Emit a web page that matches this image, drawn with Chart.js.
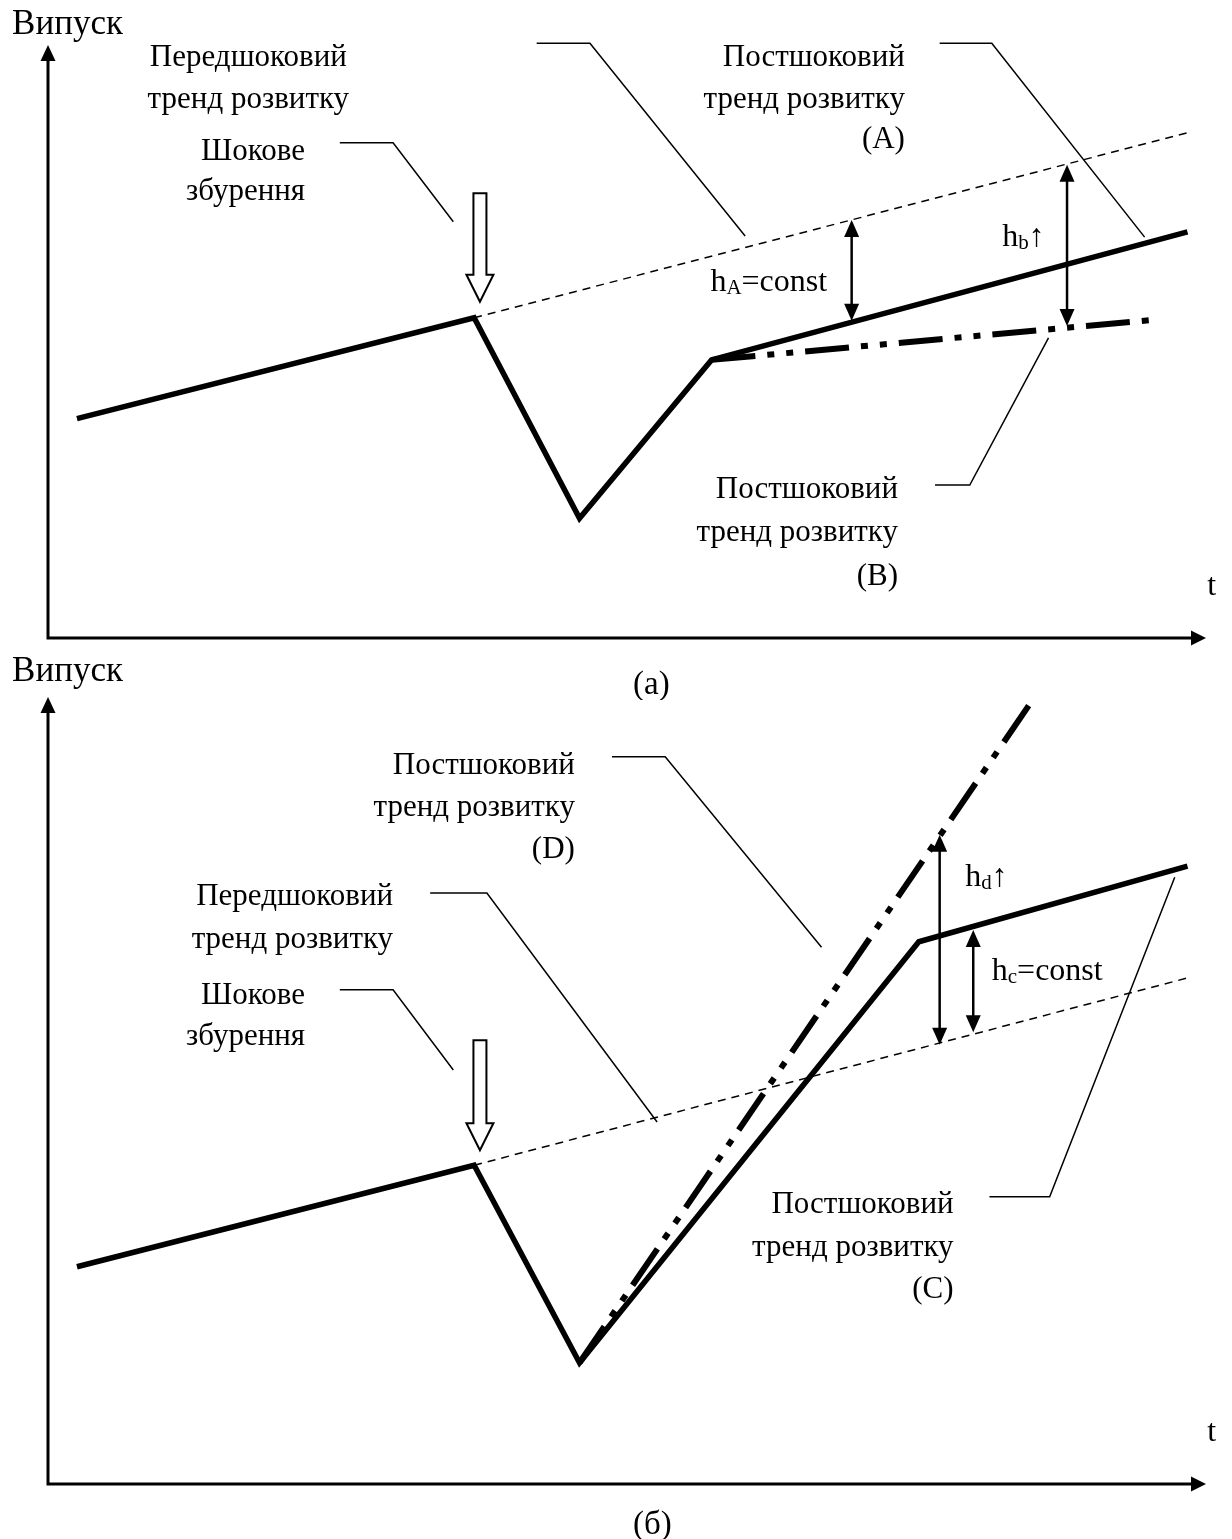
<!DOCTYPE html>
<html><head><meta charset="utf-8">
<script src="https://cdn.jsdelivr.net/npm/chart.js@4.4.0/dist/chart.umd.min.js"></script>
<style>
html,body{margin:0;padding:0;background:#fff;}
body{width:1232px;height:1539px;position:relative;overflow:hidden;}
.panel{position:absolute;left:0;width:1232px;}
#pa{top:0;height:700px;}
#pb{top:650px;height:889px;}
</style></head><body>
<div class="panel" id="pa"><canvas id="ca" width="1232" height="700"></canvas></div>
<div class="panel" id="pb"><canvas id="cb" width="1232" height="889"></canvas></div>
<script>
// ---------- Panel (a) data ----------
const aMainT = [2.5, 36.8, 45.9, 57.3, 98.4];
const aMainV = [37.0, 54.0, 20.2, 46.9, 68.5];
const aPreTrendT = [36.8, 98.4];
const aPreTrendV = [54.0, 85.2];
const aPostBT = [57.3, 95.2];
const aPostBV = [46.9, 53.6];
const aGapT = [69.4, 88.0];
const aGapTop = [70.5, 79.8];
const aGapBottom = [53.5, 52.6];

// ---------- Panel (б) data ----------
const bMainT = [2.5, 36.8, 45.9, 75.2, 98.4];
const bMainV = [27.6, 40.5, 15.4, 68.9, 78.5];
const bPreTrendT = [36.8, 98.4];
const bPreTrendV = [40.5, 64.3];
const bPostDT = [45.9, 85.2];
const bPostDV = [15.4, 100.0];
const bGapT = [77.0, 79.9];
const bGapTop = [82.5, 70.4];
const bGapBottom = [55.8, 57.4];

// ---------- Annotation text ----------
const axisY = 'Випуск';
const axisX = 't';
const capA = '(a)';
const capB = '(б)';
const lblPre = ['Передшоковий', 'тренд розвитку'];
const lblShock = ['Шокове', 'збурення'];
const lblPostA = ['Постшоковий', 'тренд розвитку', '(A)'];
const lblPostB = ['Постшоковий', 'тренд розвитку', '(B)'];
const lblPostC = ['Постшоковий', 'тренд розвитку', '(C)'];
const lblPostD = ['Постшоковий', 'тренд розвитку', '(D)'];

const FONT = '"Liberation Serif","Times New Roman","DejaVu Serif",serif';

const annA = {
  texts: [
    {lines:[axisY], t:-3.1, v:103.4, align:'left', size:35},
    {lines:[axisX], t:100.5, v:8.6, align:'center', size:32},
    {lines:[capA], t:52.1, v:-7.9, align:'center', size:33},
    {lines:lblPre, t:17.3, v:[97.8, 90.7], align:'center', size:31},
    {lines:lblPostA, t:74.0, v:[97.8, 90.7, 84.0], align:'right', size:31},
    {lines:lblShock, t:22.2, v:[82.0, 75.2], align:'right', size:31},
    {lines:lblPostB, t:73.4, v:[25.0, 17.7, 10.3], align:'right', size:31}
  ],
  leaders: [
    {t:[42.2, 46.8, 60.2], v:[100.3, 100.3, 67.8]},
    {t:[77.0, 81.5, 94.7], v:[100.3, 100.3, 67.6]},
    {t:[25.2, 29.8, 35.0], v:[83.5, 83.5, 70.2]},
    {t:[76.6, 79.6, 86.4], v:[25.8, 25.8, 50.6]}
  ],
  shock: {t:37.3, vTop:75.0, vTip:56.7},
  gapLabels: [
    {t:57.2, v:59.9, main:'h', sub:'A', rest:'=const'},
    {t:82.4, v:67.5, main:'h', sub:'b', rest:'↑'}
  ],
  gaps: {t:aGapT, top:aGapTop, bottom:aGapBottom}
};

const annB = {
  texts: [
    {lines:[axisY], t:-3.1, v:103.2, align:'left', size:35},
    {lines:[axisX], t:100.5, v:6.5, align:'center', size:32},
    {lines:[capB], t:52.2, v:-5.2, align:'center', size:33},
    {lines:lblPostD, t:45.5, v:[91.2, 85.9, 80.6], align:'right', size:31},
    {lines:lblPre, t:29.8, v:[74.6, 69.1], align:'right', size:31},
    {lines:lblShock, t:22.2, v:[62.0, 56.8], align:'right', size:31},
    {lines:lblPostC, t:78.2, v:[35.5, 30.0, 24.7], align:'right', size:31}
  ],
  leaders: [
    {t:[48.7, 53.3, 66.8], v:[92.4, 92.4, 68.2]},
    {t:[33.0, 37.9, 52.6], v:[75.1, 75.1, 46.0]},
    {t:[25.2, 29.8, 35.0], v:[62.8, 62.8, 52.6]},
    {t:[81.3, 86.5, 97.3], v:[36.5, 36.5, 77.1]}
  ],
  shock: {t:37.3, vTop:56.4, vTip:42.4},
  gapLabels: [
    {t:79.2, v:77.1, main:'h', sub:'d', rest:'↑'},
    {t:81.5, v:65.1, main:'h', sub:'c', rest:'=const'}
  ],
  gaps: {t:bGapT, top:bGapTop, bottom:bGapBottom}
};

function pts(ts, vs){ return ts.map((t,i)=>({x:t, y:vs[i]})); }

function tri(ctx, tipX, tipY, dir, len, half){
  ctx.beginPath();
  if(dir==='up'){ ctx.moveTo(tipX, tipY); ctx.lineTo(tipX-half, tipY+len); ctx.lineTo(tipX+half, tipY+len); }
  else if(dir==='down'){ ctx.moveTo(tipX, tipY); ctx.lineTo(tipX-half, tipY-len); ctx.lineTo(tipX+half, tipY-len); }
  else { ctx.moveTo(tipX, tipY); ctx.lineTo(tipX-len, tipY-half); ctx.lineTo(tipX-len, tipY+half); }
  ctx.closePath(); ctx.fill();
}

function schemaPlugin(ann){
  return {
    id:'schema',
    afterDatasetsDraw(chart){
      const ctx = chart.ctx, xs = chart.scales.x, ys = chart.scales.y;
      const X = t=>xs.getPixelForValue(t), Y = v=>ys.getPixelForValue(v);
      ctx.save();
      ctx.strokeStyle = '#000'; ctx.fillStyle = '#000';
      // axes with arrow heads
      const x0 = X(0), y0 = Y(0), yTop = Y(100), xEnd = X(100);
      ctx.lineWidth = 3; ctx.lineCap = 'butt';
      ctx.beginPath(); ctx.moveTo(x0, yTop+12); ctx.lineTo(x0, y0); ctx.lineTo(xEnd-12, y0); ctx.stroke();
      tri(ctx, x0, yTop, 'up', 16, 7.5);
      tri(ctx, xEnd, y0, 'right', 15, 7.5);
      // leader lines
      ctx.lineWidth = 1.5;
      ann.leaders.forEach(l=>{
        ctx.beginPath();
        l.t.forEach((t,i)=>{ const px=X(t), py=Y(l.v[i]); if(i===0) ctx.moveTo(px,py); else ctx.lineTo(px,py); });
        ctx.stroke();
      });
      // gap double arrows
      ctx.lineWidth = 2.5;
      ann.gaps.t.forEach((t,i)=>{
        const px = X(t), pt = Y(ann.gaps.top[i]), pb = Y(ann.gaps.bottom[i]);
        ctx.beginPath(); ctx.moveTo(px, pt+10); ctx.lineTo(px, pb-10); ctx.stroke();
        tri(ctx, px, pt, 'up', 17, 7.5);
        tri(ctx, px, pb, 'down', 17, 7.5);
      });
      // hollow shock arrow
      const s = ann.shock, sx = X(s.t), sTop = Y(s.vTop), sTip = Y(s.vTip);
      const headStart = sTip - 27;
      ctx.lineWidth = 2; ctx.lineJoin = 'miter';
      ctx.fillStyle = '#fff';
      ctx.beginPath();
      ctx.moveTo(sx-6.5, sTop); ctx.lineTo(sx+6.5, sTop); ctx.lineTo(sx+6.5, headStart);
      ctx.lineTo(sx+13.5, headStart); ctx.lineTo(sx, sTip); ctx.lineTo(sx-13.5, headStart);
      ctx.lineTo(sx-6.5, headStart); ctx.closePath();
      ctx.fill(); ctx.stroke();
      ctx.fillStyle = '#000';
      // texts
      ctx.textBaseline = 'middle';
      ann.texts.forEach(tx=>{
        ctx.font = tx.size + 'px ' + FONT;
        ctx.textAlign = tx.align;
        tx.lines.forEach((line,i)=>{
          const v = Array.isArray(tx.v) ? tx.v[i] : tx.v;
          ctx.fillText(line, X(tx.t), Y(v));
        });
      });
      // gap labels with subscripts
      ann.gapLabels.forEach(g=>{
        let px = X(g.t); const py = Y(g.v);
        ctx.textAlign = 'left';
        ctx.font = '32px ' + FONT; ctx.fillText(g.main, px, py); px += ctx.measureText(g.main).width;
        ctx.font = '21px ' + FONT; ctx.fillText(g.sub, px, py+6); px += ctx.measureText(g.sub).width;
        ctx.font = '32px ' + FONT; ctx.fillText(g.rest, px, py);
      });
      ctx.restore();
    }
  };
}

function lineDs(data, width, dash){
  return {data, showLine:true, borderColor:'#000', borderWidth:width, borderDash:dash||[],
    pointRadius:0, pointHoverRadius:0, fill:false, tension:0,
    borderJoinStyle:'miter', borderCapStyle:'butt', clip:false};
}

function makeChart(id, datasets, ann, pad){
  return new Chart(document.getElementById(id), {
    type:'scatter',
    data:{datasets},
    options:{
      responsive:false, animation:false, devicePixelRatio:1,
      layout:{padding:pad},
      plugins:{legend:{display:false}, tooltip:{enabled:false}},
      scales:{
        x:{type:'linear', min:0, max:100, display:false},
        y:{type:'linear', min:0, max:100, display:false}
      }
    },
    plugins:[schemaPlugin(ann)]
  });
}

const DASH = [8, 6];
const DDOT = [44, 12, 7, 12, 7, 12];

makeChart('ca', [
  lineDs(pts(aPreTrendT, aPreTrendV), 1.5, DASH),
  lineDs(pts(aPostBT, aPostBV), 6, DDOT),
  lineDs(pts(aMainT, aMainV), 5.5)
], annA, {left:48, right:26, top:45, bottom:62});

makeChart('cb', [
  lineDs(pts(bPreTrendT, bPreTrendV), 1.5, DASH),
  lineDs(pts(bPostDT, bPostDV), 6, DDOT),
  lineDs(pts(bMainT, bMainV), 5.5)
], annB, {left:48, right:26, top:47, bottom:55});
</script>
</body></html>
